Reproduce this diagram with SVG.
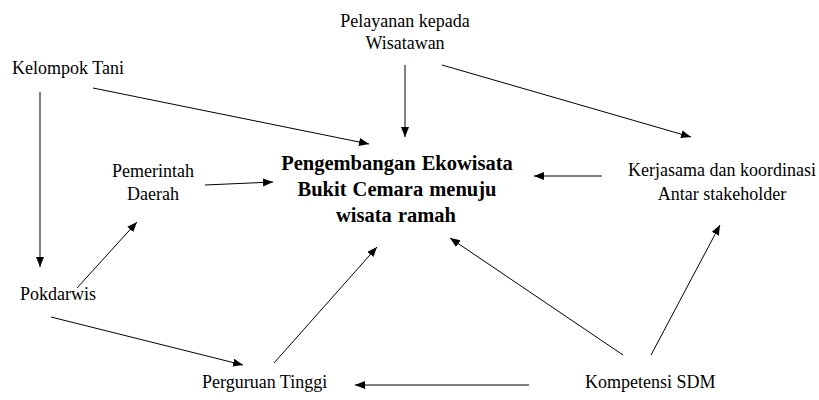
<svg xmlns="http://www.w3.org/2000/svg" width="819" height="400" viewBox="0 0 819 400">
<style>
text{font-family:"Times New Roman","Liberation Serif",serif;fill:#000}
.t{font-size:18px}
.c{text-anchor:middle}
.b{font-size:20.5px;font-weight:bold;text-anchor:middle;word-spacing:1px}
.e{stroke:#000;stroke-width:1;fill:none;marker-end:url(#ah)}
</style>
<defs>
<marker id="ah" markerUnits="userSpaceOnUse" markerWidth="11" markerHeight="9" refX="10" refY="4" orient="auto" viewBox="0 0 11 9">
<path d="M0,0 L10,4 L0,8 z" fill="#000"/>
</marker>
</defs>
<rect width="819" height="400" fill="#fff"/>
<g id="connectors">
<line class="e" x1="93" y1="88" x2="369" y2="144"/>
<line class="e" x1="40" y1="92" x2="40" y2="267"/>
<line class="e" x1="405" y1="65" x2="405" y2="137"/>
<line class="e" x1="442" y1="65" x2="691" y2="137"/>
<line class="e" x1="205" y1="185" x2="273" y2="182"/>
<line class="e" x1="602" y1="176" x2="534" y2="176"/>
<line class="e" x1="77" y1="288" x2="137" y2="222"/>
<line class="e" x1="51" y1="317" x2="243" y2="365"/>
<line class="e" x1="274" y1="363" x2="377" y2="247"/>
<line class="e" x1="623" y1="355" x2="450" y2="238"/>
<line class="e" x1="651" y1="355" x2="720" y2="225"/>
<line class="e" x1="529" y1="385" x2="355" y2="385"/>
</g>
<g id="center">
<text class="b" x="397" y="170">Pengembangan Ekowisata</text>
<text class="b" x="397" y="196">Bukit Cemara menuju</text>
<text class="b" x="396" y="222">wisata ramah</text>
</g>
<g id="pelayanan">
<text class="t c" x="405" y="27">Pelayanan kepada</text>
<text class="t c" x="405" y="49">Wisatawan</text>
</g>
<g id="kelompok-tani">
<text class="t" x="12" y="74">Kelompok Tani</text>
</g>
<g id="pemerintah">
<text class="t c" x="153" y="177">Pemerintah</text>
<text class="t c" x="153" y="200">Daerah</text>
</g>
<g id="kerjasama">
<text class="t c" x="722" y="176">Kerjasama dan koordinasi</text>
<text class="t c" x="722" y="200">Antar stakeholder</text>
</g>
<g id="pokdarwis">
<text class="t" x="20" y="300">Pokdarwis</text>
</g>
<g id="perguruan">
<text class="t" x="202" y="388">Perguruan Tinggi</text>
</g>
<g id="kompetensi">
<text class="t" x="585" y="388">Kompetensi SDM</text>
</g>
</svg>
